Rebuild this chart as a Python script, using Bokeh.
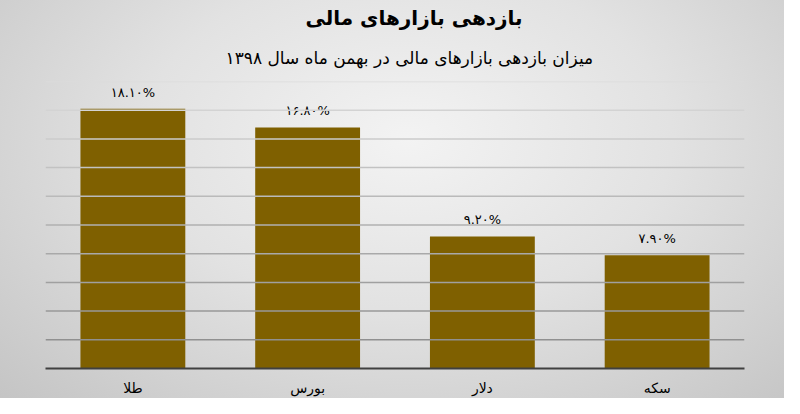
from bokeh.plotting import figure
from bokeh.models import Title, Span, ColumnDataSource, Range1d
from bokeh.core.properties import value
from bokeh.embed import file_html
from bokeh.resources import INLINE

categories = ["طلا", "بورس", "دلار", "سکه"]
returns = [18.1, 16.8, 9.2, 7.9]
labels = ["۱۸.۱۰%", "۱۶.۸۰%", "۹.۲۰%", "۷.۹۰%"]
grid_levels = [2, 4, 6, 8, 10, 12, 14, 16, 18, 20]
title_text = "بازدهی بازارهای مالی"
subtitle_text = "میزان بازدهی بازارهای مالی در بهمن ماه سال ۱۳۹۸"

FONT = "DejaVu Sans"

src = ColumnDataSource(dict(cat=categories, val=returns, lab=labels))

p = figure(width=784, height=398, x_range=categories, y_range=Range1d(0, 20),
           output_backend="svg", toolbar_location=None, title=None,
           min_border_left=45, min_border_right=40, min_border_bottom=0, min_border_top=0)

p.styles = {"background": "radial-gradient(ellipse 75% 95% at 52% 35%, #f3f3f3 0%, #e2e2e2 45%, #c3c3c3 100%)"}
p.border_fill_alpha = 0
p.background_fill_alpha = 0
p.outline_line_color = None

sub = Title(text=subtitle_text, align="left", text_font=FONT, text_font_size="17px",
            text_font_style="normal", text_color="#000000", offset=180, standoff=27)
main = Title(text=title_text, align="left", text_font=FONT, text_font_size="20px",
             text_font_style="bold", text_color="#000000", offset=255, standoff=6,
             padding=(5, 0, 0, 0))
p.add_layout(sub, "above")
p.add_layout(main, "above")

p.xgrid.grid_line_color = None
p.ygrid.grid_line_color = None

n = len(grid_levels)
for i, lv in enumerate(grid_levels):
    t = i / (n - 1)
    c = int(0x90 + (0xdc - 0x90) * t)
    p.add_layout(Span(location=lv, dimension="width", line_color="#%02x%02x%02x" % (c, c, c), line_width=1.5))

p.vbar(x="cat", top="val", width=0.6, source=src, fill_color="#7F6000", line_color=None)

p.text(x="cat", y="val", text="lab", source=src, text_align="center", text_baseline="bottom",
       y_offset=-9, text_font=value(FONT), text_font_size="13px", text_color="#000000")

p.yaxis.visible = False
p.xaxis.axis_line_color = "#404040"
p.xaxis.axis_line_width = 2
p.xaxis.major_tick_line_color = None
p.xaxis.minor_tick_line_color = None
p.xaxis.major_label_text_font = FONT
p.xaxis.major_label_text_font_size = "14px"
p.xaxis.major_label_text_color = "#000000"
p.xaxis.major_label_standoff = 5

open("out.html", "w").write(file_html(p, INLINE))
